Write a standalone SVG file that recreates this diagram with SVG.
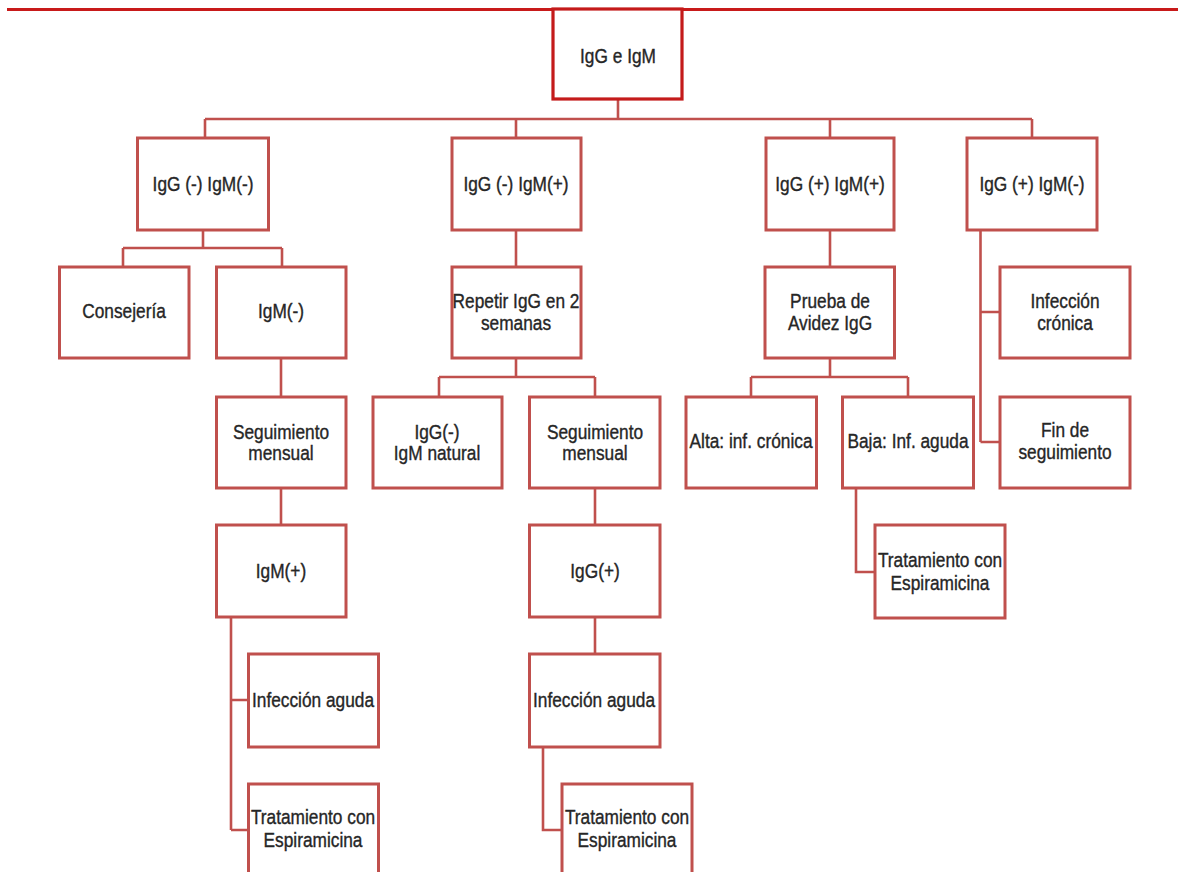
<svg xmlns="http://www.w3.org/2000/svg" width="1178" height="872" viewBox="0 0 1178 872">
<style>
.box{fill:#ffffff;stroke:#c0504d;stroke-width:3}
.root{fill:#ffffff;stroke:#c41a1a;stroke-width:3.2}
.conn{fill:none;stroke:#c0504d;stroke-width:2.6}
.t{font-family:"Liberation Sans",Arial,sans-serif;font-size:19px;fill:#262626;stroke:#262626;stroke-width:0.35;text-anchor:middle}
</style>
<rect width="1178" height="872" fill="#ffffff"/>
<line x1="7" y1="9.5" x2="1178" y2="9.5" stroke="#c81a1a" stroke-width="3"/>
<g id="connectors">
<path class="conn" d="M618 100V119M205 119H1032M205 119V138M516 119V138M830 119V138M1032 119V138"/>
<path class="conn" d="M203 230V248M123 248H282M123 248V267M282 248V267"/>
<path class="conn" d="M281 357V397M281 487V525"/>
<path class="conn" d="M231 617V830M231 700H249M231 830H249"/>
<path class="conn" d="M516 230V267M516 357V377M439 377H595M439 377V397M595 377V397M595 487V525M595 617V654"/>
<path class="conn" d="M543 747V830H562"/>
<path class="conn" d="M830 230V267M830 358V377M751 377H908M751 377V397M908 377V397"/>
<path class="conn" d="M856 488V572H875"/>
<path class="conn" d="M980.5 230V442M980.5 312H1000M980.5 442H1000"/>
</g>
<g id="root"><rect class="root" x="553" y="9" width="129" height="90"/><text class="t" transform="translate(618 63) scale(0.91 1.08)">IgG e IgM</text></g>
<g id="n_a"><rect class="box" x="137.5" y="138" width="131" height="92"/><text class="t" transform="translate(203 191) scale(0.91 1.08)">IgG (-) IgM(-)</text></g>
<g id="n_b"><rect class="box" x="452" y="138" width="129" height="92"/><text class="t" transform="translate(516 191) scale(0.91 1.08)">IgG (-) IgM(+)</text></g>
<g id="n_c"><rect class="box" x="766" y="138" width="128" height="92"/><text class="t" transform="translate(830 191) scale(0.91 1.08)">IgG (+) IgM(+)</text></g>
<g id="n_d"><rect class="box" x="967" y="138" width="130" height="92"/><text class="t" transform="translate(1032 191) scale(0.91 1.08)">IgG (+) IgM(-)</text></g>
<g id="n_consejeria"><rect class="box" x="59.5" y="267" width="129.5" height="91"/><text class="t" transform="translate(124 318) scale(0.91 1.08)">Consejería</text></g>
<g id="n_igm_neg"><rect class="box" x="216.5" y="267" width="129.5" height="91"/><text class="t" transform="translate(281 318) scale(0.91 1.08)">IgM(-)</text></g>
<g id="n_seg1"><rect class="box" x="216.5" y="397" width="129.5" height="91"/><text class="t" transform="translate(281 439) scale(0.91 1.08)">Seguimiento</text><text class="t" transform="translate(281 460) scale(0.91 1.08)">mensual</text></g>
<g id="n_igm_pos"><rect class="box" x="216.5" y="525" width="129.5" height="92"/><text class="t" transform="translate(281 578) scale(0.91 1.08)">IgM(+)</text></g>
<g id="n_inf1"><rect class="box" x="248.5" y="654" width="130" height="93"/><text class="t" transform="translate(313 707) scale(0.91 1.08)">Infección aguda</text></g>
<g id="n_trat1"><rect class="box" x="248.5" y="784" width="130" height="100"/><text class="t" transform="translate(313 824) scale(0.91 1.08)">Tratamiento con</text><text class="t" transform="translate(313 847) scale(0.91 1.08)">Espiramicina</text></g>
<g id="n_repetir"><rect class="box" x="452" y="267" width="129" height="91"/><text class="t" transform="translate(516 308) scale(0.91 1.08)">Repetir IgG en 2</text><text class="t" transform="translate(516 330) scale(0.91 1.08)">semanas</text></g>
<g id="n_igg_neg"><rect class="box" x="373" y="397" width="129" height="91"/><text class="t" transform="translate(437 439) scale(0.91 1.08)">IgG(-)</text><text class="t" transform="translate(437 460) scale(0.91 1.08)">IgM natural</text></g>
<g id="n_seg2"><rect class="box" x="529.5" y="397" width="130.5" height="91"/><text class="t" transform="translate(595 439) scale(0.91 1.08)">Seguimiento</text><text class="t" transform="translate(595 460) scale(0.91 1.08)">mensual</text></g>
<g id="n_igg_pos"><rect class="box" x="529.5" y="525" width="130.5" height="92"/><text class="t" transform="translate(595 578) scale(0.91 1.08)">IgG(+)</text></g>
<g id="n_inf2"><rect class="box" x="529.5" y="654" width="130.5" height="93"/><text class="t" transform="translate(594 707) scale(0.91 1.08)">Infección aguda</text></g>
<g id="n_trat2"><rect class="box" x="562" y="784" width="130" height="100"/><text class="t" transform="translate(627 824) scale(0.91 1.08)">Tratamiento con</text><text class="t" transform="translate(627 847) scale(0.91 1.08)">Espiramicina</text></g>
<g id="n_prueba"><rect class="box" x="765" y="267" width="129.5" height="91"/><text class="t" transform="translate(830 308) scale(0.91 1.08)">Prueba de</text><text class="t" transform="translate(830 330) scale(0.91 1.08)">Avidez IgG</text></g>
<g id="n_alta"><rect class="box" x="686" y="397" width="130.5" height="91"/><text class="t" transform="translate(751 448) scale(0.91 1.08)">Alta: inf. crónica</text></g>
<g id="n_baja"><rect class="box" x="842.5" y="397" width="131" height="91"/><text class="t" transform="translate(908 448) scale(0.91 1.08)">Baja: Inf. aguda</text></g>
<g id="n_trat3"><rect class="box" x="875" y="525" width="130" height="93"/><text class="t" transform="translate(940 567) scale(0.91 1.08)">Tratamiento con</text><text class="t" transform="translate(940 590) scale(0.91 1.08)">Espiramicina</text></g>
<g id="n_cronica"><rect class="box" x="1000" y="267" width="130" height="91"/><text class="t" transform="translate(1065 308) scale(0.91 1.08)">Infección</text><text class="t" transform="translate(1065 330) scale(0.91 1.08)">crónica</text></g>
<g id="n_fin"><rect class="box" x="1000" y="397" width="130" height="91"/><text class="t" transform="translate(1065 437) scale(0.91 1.08)">Fin de</text><text class="t" transform="translate(1065 459) scale(0.91 1.08)">seguimiento</text></g>
</svg>
